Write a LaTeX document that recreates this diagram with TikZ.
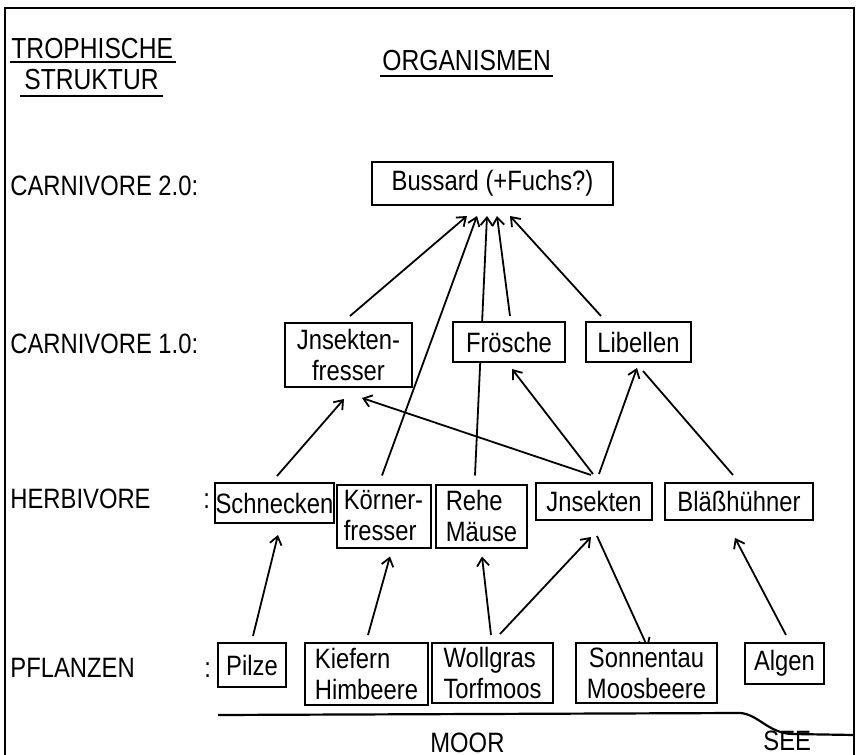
\documentclass[tikz,border=0pt]{standalone}
\usepackage{fontspec}
\setmainfont[FakeStretch=0.85]{Liberation Sans}
\usetikzlibrary{arrows.meta,backgrounds}

\tikzset{
	org/.style={draw, fill=white, line width=1pt, inner sep=1.5pt, align=left, font=\fontsize{14}{15.5}\selectfont},
	feeds/.style={line width=0.9pt, -{Straight Barb[length=4pt,width=6pt]}},
	link/.style={line width=0.9pt},
	level/.style={anchor=base west, inner sep=0pt, font=\fontsize{14}{16}\selectfont},
	heading/.style={anchor=base west, inner sep=0pt, font=\fontsize{14.5}{16}\selectfont},
}

\begin{document}
\begin{tikzpicture}[x=0.5pt, y=-0.5pt]
	\useasboundingbox (0,0) rectangle (859,755);
	\draw[line width=1.2pt] (5,755) -- (5,8) -- (854,8) -- (854,755);
	%
	\node[heading] (troph) at (11,59) {TROPHISCHE};
	\node[heading] (struk) at (24,90) {STRUKTUR};
	\node[heading] (organ) at (382,70) {ORGANISMEN};
	\draw[line width=0.9pt] ([shift={(-0.5pt,-1.5pt)}]troph.base west) -- ([shift={(1.5pt,-1.5pt)}]troph.base east);
	\draw[line width=0.9pt] ([shift={(-2pt,-3pt)}]struk.base west) -- ([shift={(2pt,-3pt)}]struk.base east);
	\draw[line width=0.9pt] ([shift={(-1pt,-3pt)}]organ.base west) -- ([shift={(1pt,-3pt)}]organ.base east);
	%
	\node[level] (c2) at (10,195) {CARNIVORE 2.0:};
	\node[level] (c1) at (10,353) {CARNIVORE 1.0:};
	\node[level] (herb) at (10,508) {HERBIVORE};
	\node[level] (herbc) at (203,508) {:};
	\node[level] (pfl) at (10,677) {PFLANZEN};
	\node[level] (pflc) at (204,677) {:};
	%
	\node[org, minimum width=120.5pt, minimum height=21.5pt] (buss) at (492.5,183.5) {Bussard (+Fuchs?)};
	%
	\node[org, align=center, minimum width=63.5pt, minimum height=32pt] (jfr) at (348.5,355) {Jnsekten-\\fresser};
	\node[org, minimum width=56pt, minimum height=20pt] (fro) at (509,342) {Frösche};
	\node[org, minimum width=52.5pt, minimum height=20pt] (lib) at (638.5,342) {Libellen};
	%
	\node[org, inner xsep=0.3pt, minimum width=57.5pt, minimum height=20pt] (sch) at (274.5,503) {Schnecken};
	\node[org, minimum width=47pt, minimum height=31.5pt] (koe) at (383.5,516) {Körner-\\fresser};
	\node[org, minimum width=45.5pt, minimum height=31.5pt] (reh) at (481.5,516) {Rehe\\Mäuse};
	\node[org, minimum width=58pt, minimum height=18.5pt] (ins) at (594,501.5) {Jnsekten};
	\node[org, minimum width=74pt, minimum height=18.5pt] (bla) at (739,501.5) {Bläßhühner};
	%
	\node[org, minimum width=34pt, minimum height=22pt] (pil) at (252,665) {Pilze};
	\node[org, minimum width=61.5pt, minimum height=31pt] (kie) at (366.5,674) {Kiefern\\Himbeere};
	\node[org, minimum width=60.5pt, minimum height=30pt] (wol) at (492.5,673) {Wollgras\\Torfmoos};
	\node[org, align=center, minimum width=70.5pt, minimum height=30pt] (son) at (646.5,673) {Sonnentau\\Moosbeere};
	\node[org, minimum width=39.5pt, minimum height=20.5pt] (alg) at (784.5,663.5) {Algen};
	%
	\begin{scope}[on background layer]
		\draw[feeds] ([shift={(1.5,-6)}]jfr.north) -- ([shift={(-25.5,10)}]buss.south);
		\draw[feeds] ([shift={(-1.5,-8)}]koe.north) -- ([shift={(-15.5,10)}]buss.south);
		\draw[feeds] ([shift={(-6.5,-8)}]reh.north) -- ([shift={(-5.5,10)}]buss.south);
		\draw[feeds] ([shift={(1,-5)}]fro.north) -- ([shift={(4.5,10)}]buss.south);
		\draw[feeds] ([shift={(-37.5,-5)}]lib.north) -- ([shift={(17.5,10)}]buss.south);
		%
		\draw[feeds] ([shift={(2.5,-6)}]sch.north) -- ([shift={(-4.5,11)}]jfr.south);
		\draw[feeds] ([shift={(-3,-7)}]ins.north) -- ([shift={(13.5,10)}]jfr.south);
		\draw[feeds] ([shift={(-1,-8)}]ins.north) -- ([shift={(3,6)}]fro.south);
		\draw[feeds] ([shift={(5,-8)}]ins.north) -- ([shift={(-1.5,5)}]lib.south);
		\draw[link] ([shift={(-6,-7)}]bla.north) -- ([shift={(4.5,8)}]lib.south);
		%
		\draw[feeds] ([shift={(1,-6)}]pil.north) -- ([shift={(3.5,11)}]sch.south);
		\draw[feeds] ([shift={(1.5,-7)}]kie.north) -- ([shift={(6.5,8)}]koe.south);
		\draw[feeds] ([shift={(-1.5,-7)}]wol.north) -- ([shift={(0.5,8)}]reh.south);
		\draw[feeds] ([shift={(7.5,-8)}]wol.north) -- ([shift={(-3,16)}]ins.south);
		\draw[feeds] ([shift={(3,15)}]ins.south) -- ([shift={(1.5,6)}]son.north);
		\draw[feeds] ([shift={(1.5,-7)}]alg.north) -- ([shift={(-4,17)}]bla.south);
	\end{scope}
	%
	\draw[line width=1.1pt] (218,715) -- (740,713) .. controls (758,714) and (768,733) .. (792,734) -- (854,735);
	\node[level] (moor) at (430,752) {MOOR};
	\node[level] (see) at (763,750) {SEE};
\end{tikzpicture}
\end{document}
